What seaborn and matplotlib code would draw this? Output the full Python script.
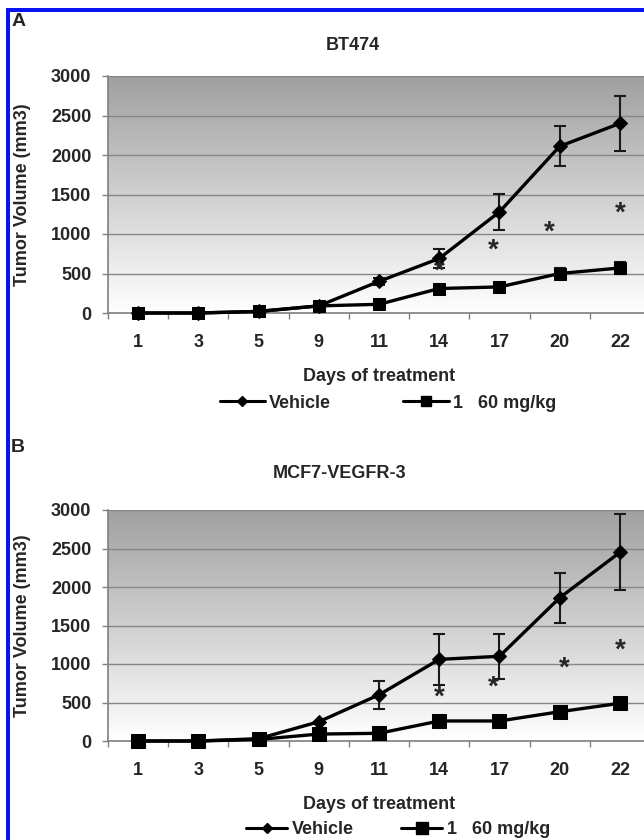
import numpy as np
import pandas as pd
import seaborn as sns
import matplotlib.pyplot as plt
from matplotlib.lines import Line2D
from matplotlib.patches import Rectangle
from matplotlib.colors import LinearSegmentedColormap

sns.set_style("ticks")
plt.rcParams["font.family"] = ["Liberation Sans", "DejaVu Sans"]
plt.rcParams["font.weight"] = "bold"

days = ["1", "3", "5", "9", "11", "14", "17", "20", "22"]

# panel A, BT474
bt_vehicle = [0, 0, 20, 90, 400, 690, 1280, 2110, 2400]
bt_vehicle_err = [0, 0, 0, 0, 40, 120, 230, 255, 345]
bt_treated = [0, 0, 20, 90, 110, 310, 330, 500, 570]
bt_treated_err = [0, 0, 0, 0, 0, 0, 0, 70, 70]
bt_star_pos = [5, 5.9, 6.83, 8]
bt_star_val = [600, 860, 1090, 1330]

# panel B, MCF7-VEGFR-3
mcf_vehicle = [0, 0, 30, 250, 600, 1060, 1100, 1860, 2450]
mcf_vehicle_err = [0, 0, 0, 0, 180, 330, 290, 325, 495]
mcf_treated = [0, 0, 20, 90, 100, 260, 260, 380, 490]
mcf_treated_err = [0, 0, 0, 0, 0, 0, 0, 0, 0]
mcf_star_pos = [5, 5.9, 7.07, 8]
mcf_star_val = [630, 770, 1010, 1250]

yticks = [0, 500, 1000, 1500, 2000, 2500, 3000]

W, H = 644, 840
fig = plt.figure(figsize=(W / 100, H / 100), dpi=100)

gray_cmap = LinearSegmentedColormap.from_list("bg", ["#ffffff", "#a0a0a0"])
grad = np.linspace(0, 1, 256).reshape(-1, 1)


def draw_panel(ax, title, title_xy, vehicle, vehicle_err, treated, treated_err,
               star_pos, star_val, square_ms, xlabel_y):
    pos = np.arange(len(days))
    df = pd.DataFrame({"pos": pos, "vehicle": vehicle, "treated": treated})

    ax.imshow(grad, extent=(-0.5, len(days) - 0.5, 0, 3000), aspect="auto",
              cmap=gray_cmap, origin="lower", zorder=0)
    ax.grid(axis="y", color="#868686", linewidth=1)

    ax.errorbar(pos, vehicle, yerr=vehicle_err, fmt="none", ecolor="#1a1a1a",
                elinewidth=1.5, capsize=4.5, capthick=1.5, zorder=3)
    ax.errorbar(pos, treated, yerr=treated_err, fmt="none", ecolor="#1a1a1a",
                elinewidth=1.5, capsize=4.5, capthick=1.5, zorder=3)

    sns.lineplot(data=df, x="pos", y="treated", ax=ax, color="black", linewidth=2.4,
                 marker="s", markersize=square_ms, markeredgecolor="black",
                 clip_on=False, zorder=4)
    sns.lineplot(data=df, x="pos", y="vehicle", ax=ax, color="black", linewidth=2.4,
                 marker="D", markersize=7.5, markeredgecolor="black",
                 clip_on=False, zorder=5)

    for p, v in zip(star_pos, star_val):
        ax.annotate("*", (p, v), xytext=(0, -4), textcoords="offset points",
                    ha="center", va="center", fontsize=20, color="#262626",
                    fontweight="bold", zorder=6)

    ax.set_xlim(-0.5, len(days) - 0.5)
    ax.set_ylim(0, 3000)
    ax.set_xticks(pos, days)
    ax.set_xticks(np.arange(-0.5, len(days), 1), minor=True)
    ax.set_yticks(yticks)
    ax.tick_params(axis="x", which="major", length=0, pad=15, labelsize=13)
    ax.tick_params(axis="x", which="minor", length=4, width=1, color="#808080")
    ax.tick_params(axis="y", length=4, width=1, color="#808080", pad=8, labelsize=13)

    for s in ["top", "right"]:
        ax.spines[s].set_visible(False)
    for s in ["left", "bottom"]:
        ax.spines[s].set_color("#808080")
        ax.spines[s].set_linewidth(1.2)

    ax.set_xlabel("Days of treatment", fontsize=13, fontweight="bold")
    ax.xaxis.set_label_coords(0.5, xlabel_y)
    ax.set_ylabel("Tumor Volume (mm3)", fontsize=13, fontweight="bold")
    ax.yaxis.set_label_coords(-0.142, 0.5)
    ax.text(title_xy[0], title_xy[1], title, transform=ax.transAxes, ha="center",
            va="center", fontsize=13, fontweight="bold")


ax_a = fig.add_axes([108 / W, 1 - 313 / H, 542 / W, 237 / H])
draw_panel(ax_a, "BT474", (0.452, 1.127), bt_vehicle, bt_vehicle_err, bt_treated,
           bt_treated_err, bt_star_pos, bt_star_val, 8.5, -0.232)

ax_b = fig.add_axes([108 / W, 1 - 741 / H, 542 / W, 231 / H])
draw_panel(ax_b, "MCF7-VEGFR-3", (0.427, 1.160), mcf_vehicle, mcf_vehicle_err,
           mcf_treated, mcf_treated_err, mcf_star_pos, mcf_star_val, 10.5, -0.24)

labels = ["Vehicle", "1   60 mg/kg"]
handles_a = [Line2D([], [], color="black", lw=2.2, marker="D", ms=5),
             Line2D([], [], color="black", lw=2.2, marker="s", ms=6.5)]
fig.legend(handles_a, labels, loc="center", bbox_to_anchor=(388 / W, 1 - 403 / H),
           ncol=2, frameon=False, fontsize=13, handlelength=2.5, handletextpad=0.25,
           columnspacing=4.0, borderaxespad=0, borderpad=0)
handles_b = [Line2D([], [], color="black", lw=2.2, marker="D", ms=5.5),
             Line2D([], [], color="black", lw=2.2, marker="s", ms=8)]
fig.legend(handles_b, labels, loc="center", bbox_to_anchor=(398 / W, 1 - 830 / H),
           ncol=2, frameon=False, fontsize=13, handlelength=2.3, handletextpad=0.25,
           columnspacing=2.6, borderaxespad=0, borderpad=0)

fig.text(12 / W, 1 - 22 / H, "A", ha="left", va="center", fontsize=14, fontweight="bold")
fig.text(11 / W, 1 - 447 / H, "B", ha="left", va="center", fontsize=14, fontweight="bold")

# blue frame on the left and top
fig.add_artist(Rectangle((6 / W, 0), 4 / W, 1 - 8 / H, transform=fig.transFigure,
                         color="#0a14f0", lw=0))
fig.add_artist(Rectangle((6 / W, 1 - 12 / H), 1, 4 / H, transform=fig.transFigure,
                         color="#0a14f0", lw=0))

fig.savefig("out.png", dpi=100)
